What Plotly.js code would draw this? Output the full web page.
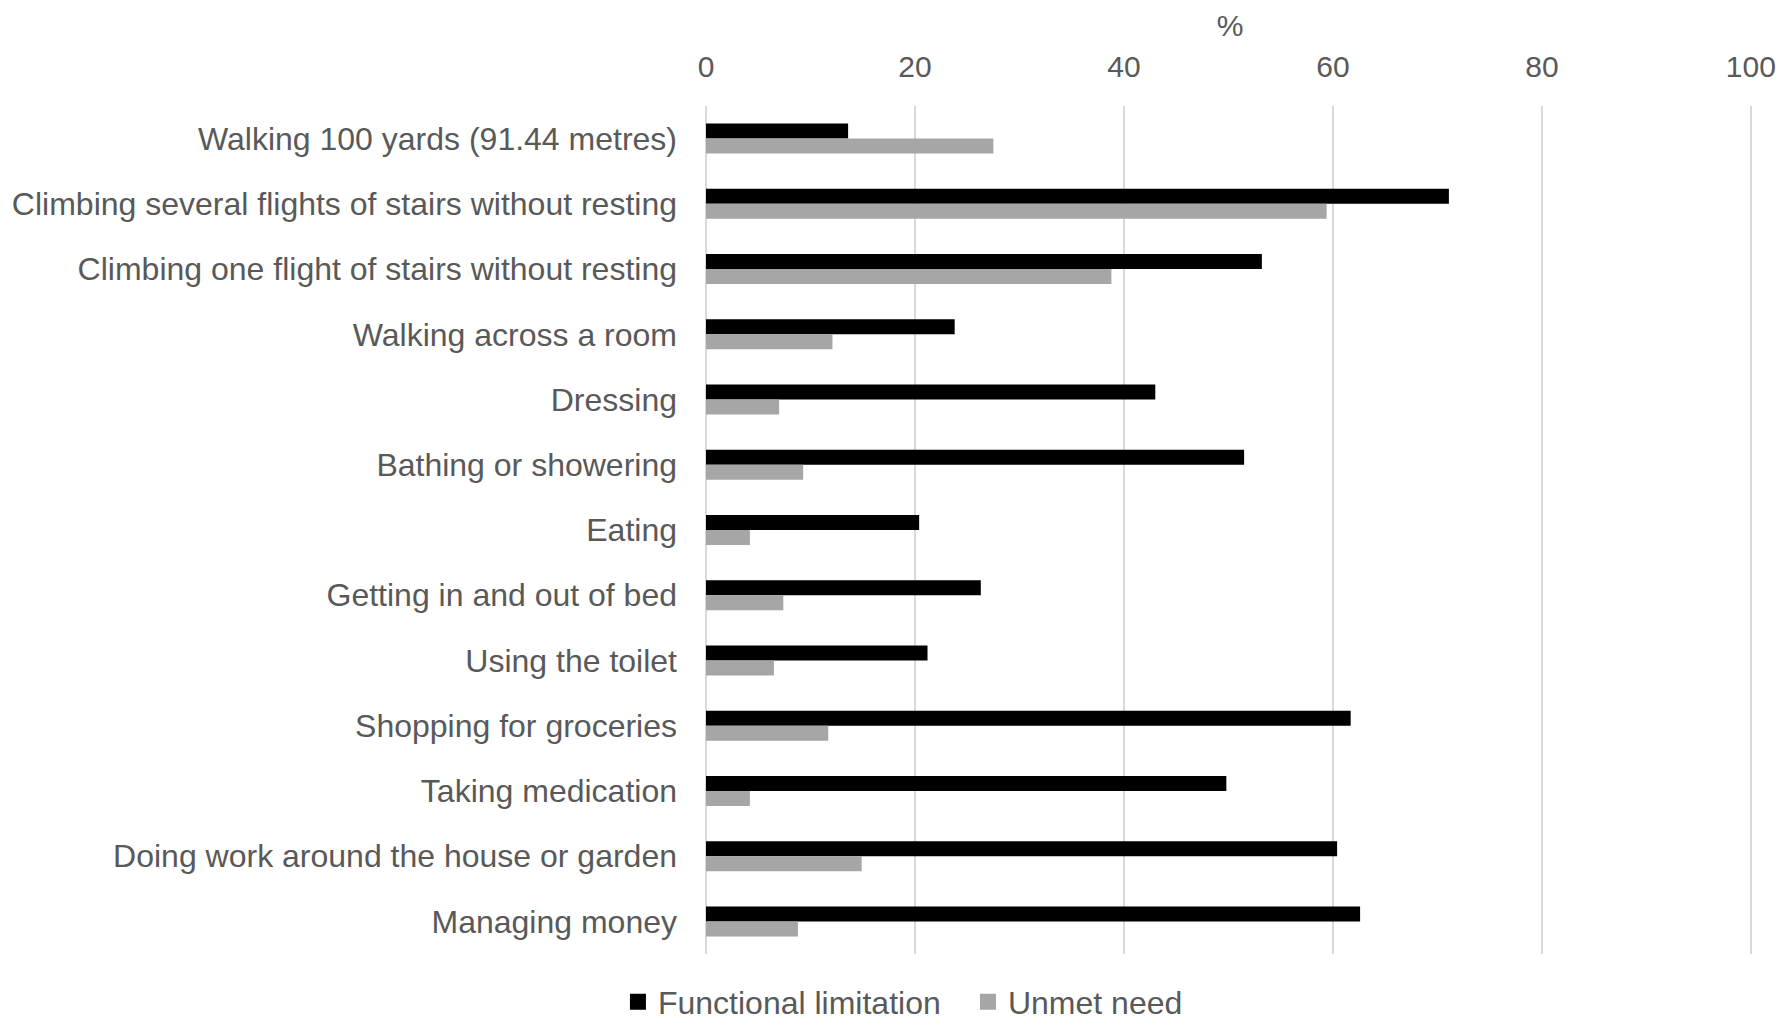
<!DOCTYPE html>
<html>
<head>
<meta charset="utf-8">
<script src="https://cdn.plot.ly/plotly-3.0.1.min.js"></script>
<style>
  html, body { margin: 0; padding: 0; background: #ffffff; }
  #chart { width: 1786px; height: 1023px; }
</style>
</head>
<body>
<div id="chart"></div>
<script>
// Activities, listed top to bottom
const activities = [
  "Walking 100 yards (91.44 metres)",
  "Climbing several flights of stairs without resting",
  "Climbing one flight of stairs without resting",
  "Walking across a room",
  "Dressing",
  "Bathing or showering",
  "Eating",
  "Getting in and out of bed",
  "Using the toilet",
  "Shopping for groceries",
  "Taking medication",
  "Doing work around the house or garden",
  "Managing money"
];

// Percentages per activity
const functionalLimitation = [13.6, 71.1, 53.2, 23.8, 43.0, 51.5, 20.4, 26.3, 21.2, 61.7, 49.8, 60.4, 62.6];
const unmetNeed = [27.5, 59.4, 38.8, 12.1, 7.0, 9.3, 4.2, 7.4, 6.5, 11.7, 4.2, 14.9, 8.8];

const seriesNames = ["Functional limitation", "Unmet need"];
const seriesColors = ["#000000", "#a6a6a6"];

const xTicks = [0, 20, 40, 60, 80, 100];

const textFont = { family: "Liberation Sans, Arial, sans-serif", color: "#595959" };

const seriesValues = [functionalLimitation, unmetNeed];

// Bars (legend entries are drawn by square-marker proxies below)
const barTraces = seriesValues.map((vals, i) => ({
  type: "bar",
  orientation: "h",
  name: seriesNames[i],
  y: activities,
  x: vals,
  marker: { color: seriesColors[i], line: { width: 0 } },
  showlegend: false,
  hoverinfo: "x+y+name"
}));

const legendTraces = seriesNames.map((name, i) => ({
  type: "scatter",
  mode: "markers",
  name: name,
  x: [null],
  y: [null],
  marker: { symbol: "square", size: 17, color: seriesColors[i] },
  showlegend: true,
  hoverinfo: "skip"
}));

const layout = {
  width: 1786,
  height: 1023,
  paper_bgcolor: "#ffffff",
  plot_bgcolor: "#ffffff",
  margin: { l: 706, r: 32, t: 106, b: 69, pad: 0 },
  barmode: "group",
  bargap: 0.54,
  bargroupgap: 0,
  showlegend: true,
  legend: {
    orientation: "h",
    xref: "container",
    yref: "container",
    x: 0.346,
    y: 0.0205,
    xanchor: "left",
    yanchor: "middle",
    entrywidth: 305,
    font: Object.assign({ size: 32 }, textFont),
    traceorder: "normal",
    itemclick: false,
    bgcolor: "rgba(0,0,0,0)"
  },
  xaxis: {
    side: "top",
    range: [0, 100.3],
    tickvals: xTicks,
    ticktext: xTicks.map(String),
    showgrid: true,
    gridcolor: "#d9d9d9",
    gridwidth: 2,
    zeroline: true,
    zerolinecolor: "#d9d9d9",
    zerolinewidth: 2,
    showline: false,
    ticks: "",
    ticklabelstandoff: 22,
    tickfont: Object.assign({ size: 30 }, textFont),
    title: {
      text: "%",
      font: Object.assign({ size: 30 }, textFont),
      standoff: 4
    },
    fixedrange: true
  },
  yaxis: {
    type: "category",
    categoryarray: activities,
    range: [activities.length - 0.5, -0.5],
    showgrid: false,
    zeroline: false,
    showline: false,
    ticks: "",
    ticklabelstandoff: 28,
    tickfont: Object.assign({ size: 32 }, textFont),
    fixedrange: true
  }
};

Plotly.newPlot("chart", barTraces.concat(legendTraces), layout, { displayModeBar: false });
</script>
</body>
</html>
